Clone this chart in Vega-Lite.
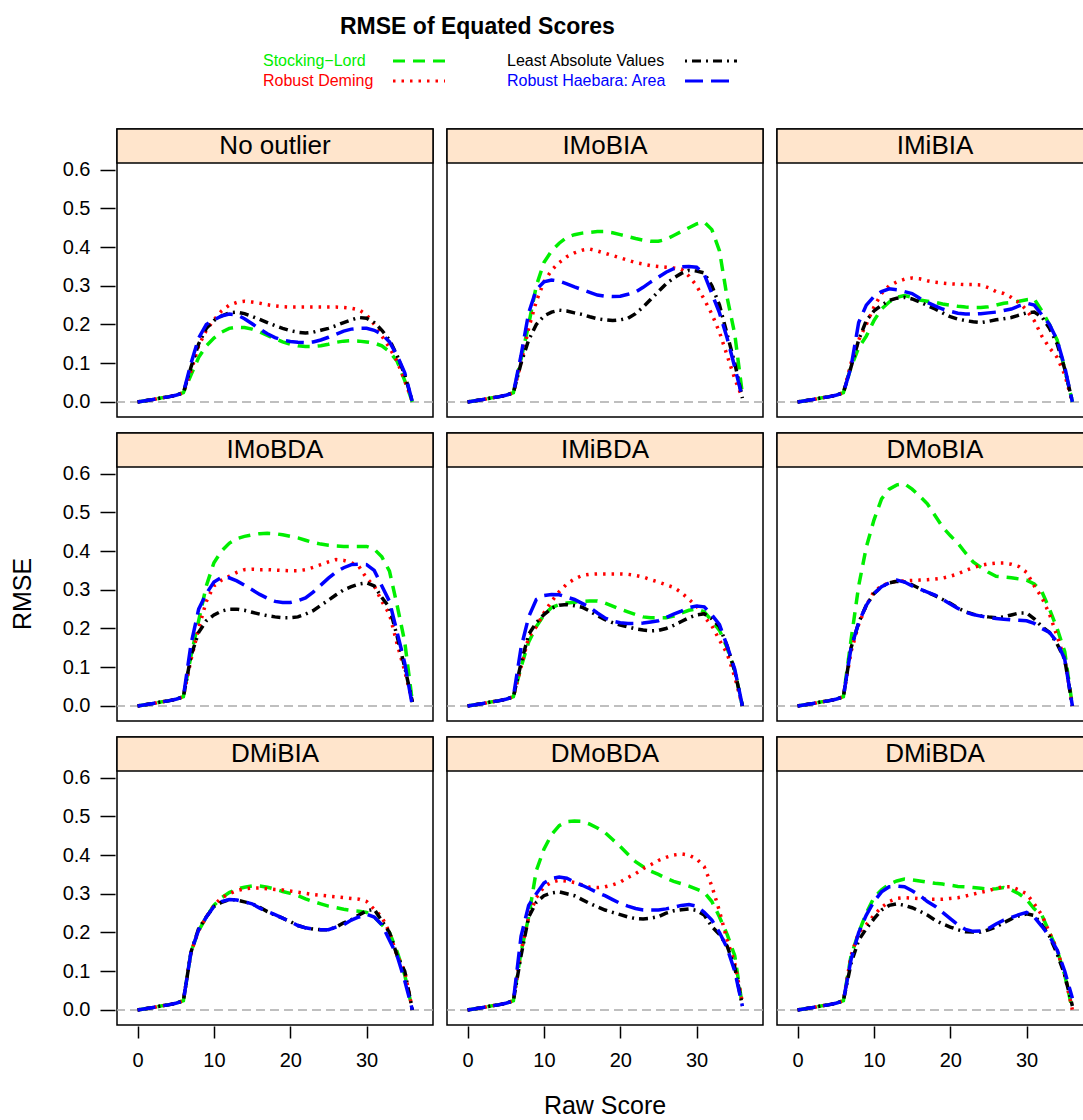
{
  "$schema": "https://vega.github.io/schema/vega-lite/v6.json",
  "background": "white",
  "padding": {"left": 10, "top": 16, "right": 0, "bottom": 0},
  "title": {
    "text": "RMSE of Equated Scores",
    "anchor": "start",
    "dx": 330,
    "offset": 14,
    "font": "Liberation Sans",
    "fontSize": 23,
    "fontWeight": "bold",
    "color": "black"
  },
  "datasets": {
    "rmse": [
      {"panel":"No outlier","score":0,"SL":0,"RD":0,"LAV":0,"RH":0},
      {"panel":"No outlier","score":1,"SL":0.003,"RD":0.003,"LAV":0.003,"RH":0.003},
      {"panel":"No outlier","score":2,"SL":0.006,"RD":0.006,"LAV":0.006,"RH":0.006},
      {"panel":"No outlier","score":3,"SL":0.01,"RD":0.01,"LAV":0.01,"RH":0.01},
      {"panel":"No outlier","score":4,"SL":0.013,"RD":0.013,"LAV":0.013,"RH":0.013},
      {"panel":"No outlier","score":5,"SL":0.017,"RD":0.017,"LAV":0.017,"RH":0.017},
      {"panel":"No outlier","score":6,"SL":0.024,"RD":0.024,"LAV":0.024,"RH":0.024},
      {"panel":"No outlier","score":7,"SL":0.07,"RD":0.08,"LAV":0.09,"RH":0.1},
      {"panel":"No outlier","score":8,"SL":0.115,"RD":0.145,"LAV":0.15,"RH":0.165},
      {"panel":"No outlier","score":9,"SL":0.145,"RD":0.185,"LAV":0.19,"RH":0.2},
      {"panel":"No outlier","score":10,"SL":0.165,"RD":0.212,"LAV":0.21,"RH":0.212},
      {"panel":"No outlier","score":11,"SL":0.18,"RD":0.235,"LAV":0.222,"RH":0.222},
      {"panel":"No outlier","score":12,"SL":0.19,"RD":0.25,"LAV":0.23,"RH":0.227},
      {"panel":"No outlier","score":13,"SL":0.193,"RD":0.257,"LAV":0.232,"RH":0.225},
      {"panel":"No outlier","score":14,"SL":0.192,"RD":0.26,"LAV":0.228,"RH":0.215},
      {"panel":"No outlier","score":15,"SL":0.188,"RD":0.258,"LAV":0.221,"RH":0.202},
      {"panel":"No outlier","score":16,"SL":0.181,"RD":0.255,"LAV":0.213,"RH":0.188},
      {"panel":"No outlier","score":17,"SL":0.172,"RD":0.251,"LAV":0.205,"RH":0.176},
      {"panel":"No outlier","score":18,"SL":0.163,"RD":0.248,"LAV":0.197,"RH":0.166},
      {"panel":"No outlier","score":19,"SL":0.155,"RD":0.246,"LAV":0.19,"RH":0.16},
      {"panel":"No outlier","score":20,"SL":0.149,"RD":0.245,"LAV":0.184,"RH":0.156},
      {"panel":"No outlier","score":21,"SL":0.145,"RD":0.245,"LAV":0.18,"RH":0.154},
      {"panel":"No outlier","score":22,"SL":0.143,"RD":0.245,"LAV":0.178,"RH":0.153},
      {"panel":"No outlier","score":23,"SL":0.143,"RD":0.245,"LAV":0.18,"RH":0.155},
      {"panel":"No outlier","score":24,"SL":0.145,"RD":0.245,"LAV":0.185,"RH":0.16},
      {"panel":"No outlier","score":25,"SL":0.149,"RD":0.245,"LAV":0.19,"RH":0.167},
      {"panel":"No outlier","score":26,"SL":0.154,"RD":0.245,"LAV":0.197,"RH":0.175},
      {"panel":"No outlier","score":27,"SL":0.157,"RD":0.244,"LAV":0.205,"RH":0.183},
      {"panel":"No outlier","score":28,"SL":0.158,"RD":0.242,"LAV":0.212,"RH":0.188},
      {"panel":"No outlier","score":29,"SL":0.157,"RD":0.238,"LAV":0.218,"RH":0.19},
      {"panel":"No outlier","score":30,"SL":0.155,"RD":0.225,"LAV":0.216,"RH":0.19},
      {"panel":"No outlier","score":31,"SL":0.152,"RD":0.2,"LAV":0.205,"RH":0.185},
      {"panel":"No outlier","score":32,"SL":0.145,"RD":0.17,"LAV":0.185,"RH":0.175},
      {"panel":"No outlier","score":33,"SL":0.13,"RD":0.14,"LAV":0.16,"RH":0.155},
      {"panel":"No outlier","score":34,"SL":0.105,"RD":0.105,"LAV":0.12,"RH":0.12},
      {"panel":"No outlier","score":35,"SL":0.055,"RD":0.055,"LAV":0.07,"RH":0.075},
      {"panel":"No outlier","score":36,"SL":0,"RD":0,"LAV":0,"RH":0},

      {"panel":"IMoBIA","score":0,"SL":0,"RD":0,"LAV":0,"RH":0},
      {"panel":"IMoBIA","score":1,"SL":0.003,"RD":0.003,"LAV":0.003,"RH":0.003},
      {"panel":"IMoBIA","score":2,"SL":0.006,"RD":0.006,"LAV":0.006,"RH":0.006},
      {"panel":"IMoBIA","score":3,"SL":0.01,"RD":0.01,"LAV":0.01,"RH":0.01},
      {"panel":"IMoBIA","score":4,"SL":0.013,"RD":0.013,"LAV":0.013,"RH":0.013},
      {"panel":"IMoBIA","score":5,"SL":0.017,"RD":0.017,"LAV":0.017,"RH":0.017},
      {"panel":"IMoBIA","score":6,"SL":0.024,"RD":0.024,"LAV":0.024,"RH":0.024},
      {"panel":"IMoBIA","score":7,"SL":0.11,"RD":0.1,"LAV":0.1,"RH":0.12},
      {"panel":"IMoBIA","score":8,"SL":0.2,"RD":0.19,"LAV":0.16,"RH":0.23},
      {"panel":"IMoBIA","score":9,"SL":0.3,"RD":0.26,"LAV":0.2,"RH":0.29},
      {"panel":"IMoBIA","score":10,"SL":0.36,"RD":0.31,"LAV":0.222,"RH":0.31},
      {"panel":"IMoBIA","score":11,"SL":0.39,"RD":0.34,"LAV":0.232,"RH":0.315},
      {"panel":"IMoBIA","score":12,"SL":0.41,"RD":0.36,"LAV":0.237,"RH":0.312},
      {"panel":"IMoBIA","score":13,"SL":0.425,"RD":0.375,"LAV":0.235,"RH":0.305},
      {"panel":"IMoBIA","score":14,"SL":0.432,"RD":0.385,"LAV":0.23,"RH":0.297},
      {"panel":"IMoBIA","score":15,"SL":0.436,"RD":0.392,"LAV":0.226,"RH":0.29},
      {"panel":"IMoBIA","score":16,"SL":0.438,"RD":0.395,"LAV":0.22,"RH":0.283},
      {"panel":"IMoBIA","score":17,"SL":0.44,"RD":0.39,"LAV":0.215,"RH":0.276},
      {"panel":"IMoBIA","score":18,"SL":0.44,"RD":0.384,"LAV":0.212,"RH":0.273},
      {"panel":"IMoBIA","score":19,"SL":0.437,"RD":0.378,"LAV":0.21,"RH":0.272},
      {"panel":"IMoBIA","score":20,"SL":0.432,"RD":0.372,"LAV":0.212,"RH":0.273},
      {"panel":"IMoBIA","score":21,"SL":0.427,"RD":0.366,"LAV":0.216,"RH":0.278},
      {"panel":"IMoBIA","score":22,"SL":0.422,"RD":0.36,"LAV":0.228,"RH":0.284},
      {"panel":"IMoBIA","score":23,"SL":0.418,"RD":0.356,"LAV":0.245,"RH":0.296},
      {"panel":"IMoBIA","score":24,"SL":0.415,"RD":0.352,"LAV":0.265,"RH":0.31},
      {"panel":"IMoBIA","score":25,"SL":0.415,"RD":0.35,"LAV":0.285,"RH":0.322},
      {"panel":"IMoBIA","score":26,"SL":0.42,"RD":0.348,"LAV":0.305,"RH":0.335},
      {"panel":"IMoBIA","score":27,"SL":0.43,"RD":0.346,"LAV":0.32,"RH":0.344},
      {"panel":"IMoBIA","score":28,"SL":0.44,"RD":0.343,"LAV":0.332,"RH":0.349},
      {"panel":"IMoBIA","score":29,"SL":0.45,"RD":0.325,"LAV":0.34,"RH":0.35},
      {"panel":"IMoBIA","score":30,"SL":0.46,"RD":0.3,"LAV":0.338,"RH":0.348},
      {"panel":"IMoBIA","score":31,"SL":0.465,"RD":0.265,"LAV":0.333,"RH":0.33},
      {"panel":"IMoBIA","score":32,"SL":0.445,"RD":0.227,"LAV":0.3,"RH":0.28},
      {"panel":"IMoBIA","score":33,"SL":0.39,"RD":0.18,"LAV":0.25,"RH":0.23},
      {"panel":"IMoBIA","score":34,"SL":0.27,"RD":0.12,"LAV":0.175,"RH":0.165},
      {"panel":"IMoBIA","score":35,"SL":0.175,"RD":0.06,"LAV":0.1,"RH":0.09},
      {"panel":"IMoBIA","score":36,"SL":0.02,"RD":0.01,"LAV":0.01,"RH":0.01},

      {"panel":"IMiBIA","score":0,"SL":0,"RD":0,"LAV":0,"RH":0},
      {"panel":"IMiBIA","score":1,"SL":0.003,"RD":0.003,"LAV":0.003,"RH":0.003},
      {"panel":"IMiBIA","score":2,"SL":0.006,"RD":0.006,"LAV":0.006,"RH":0.006},
      {"panel":"IMiBIA","score":3,"SL":0.01,"RD":0.01,"LAV":0.01,"RH":0.01},
      {"panel":"IMiBIA","score":4,"SL":0.013,"RD":0.013,"LAV":0.013,"RH":0.013},
      {"panel":"IMiBIA","score":5,"SL":0.017,"RD":0.017,"LAV":0.017,"RH":0.017},
      {"panel":"IMiBIA","score":6,"SL":0.024,"RD":0.024,"LAV":0.024,"RH":0.024},
      {"panel":"IMiBIA","score":7,"SL":0.09,"RD":0.1,"LAV":0.09,"RH":0.09},
      {"panel":"IMiBIA","score":8,"SL":0.14,"RD":0.16,"LAV":0.16,"RH":0.205},
      {"panel":"IMiBIA","score":9,"SL":0.17,"RD":0.2,"LAV":0.21,"RH":0.25},
      {"panel":"IMiBIA","score":10,"SL":0.21,"RD":0.245,"LAV":0.235,"RH":0.272},
      {"panel":"IMiBIA","score":11,"SL":0.24,"RD":0.28,"LAV":0.25,"RH":0.285},
      {"panel":"IMiBIA","score":12,"SL":0.258,"RD":0.3,"LAV":0.262,"RH":0.292},
      {"panel":"IMiBIA","score":13,"SL":0.27,"RD":0.31,"LAV":0.268,"RH":0.29},
      {"panel":"IMiBIA","score":14,"SL":0.275,"RD":0.317,"LAV":0.27,"RH":0.285},
      {"panel":"IMiBIA","score":15,"SL":0.27,"RD":0.32,"LAV":0.266,"RH":0.28},
      {"panel":"IMiBIA","score":16,"SL":0.263,"RD":0.318,"LAV":0.258,"RH":0.268},
      {"panel":"IMiBIA","score":17,"SL":0.26,"RD":0.313,"LAV":0.249,"RH":0.257},
      {"panel":"IMiBIA","score":18,"SL":0.257,"RD":0.309,"LAV":0.24,"RH":0.248},
      {"panel":"IMiBIA","score":19,"SL":0.253,"RD":0.307,"LAV":0.23,"RH":0.24},
      {"panel":"IMiBIA","score":20,"SL":0.25,"RD":0.305,"LAV":0.22,"RH":0.234},
      {"panel":"IMiBIA","score":21,"SL":0.247,"RD":0.304,"LAV":0.214,"RH":0.229},
      {"panel":"IMiBIA","score":22,"SL":0.245,"RD":0.303,"LAV":0.21,"RH":0.227},
      {"panel":"IMiBIA","score":23,"SL":0.244,"RD":0.303,"LAV":0.207,"RH":0.227},
      {"panel":"IMiBIA","score":24,"SL":0.244,"RD":0.302,"LAV":0.205,"RH":0.228},
      {"panel":"IMiBIA","score":25,"SL":0.246,"RD":0.295,"LAV":0.208,"RH":0.23},
      {"panel":"IMiBIA","score":26,"SL":0.25,"RD":0.285,"LAV":0.212,"RH":0.232},
      {"panel":"IMiBIA","score":27,"SL":0.255,"RD":0.28,"LAV":0.215,"RH":0.236},
      {"panel":"IMiBIA","score":28,"SL":0.257,"RD":0.27,"LAV":0.218,"RH":0.24},
      {"panel":"IMiBIA","score":29,"SL":0.26,"RD":0.257,"LAV":0.224,"RH":0.248},
      {"panel":"IMiBIA","score":30,"SL":0.264,"RD":0.237,"LAV":0.23,"RH":0.255},
      {"panel":"IMiBIA","score":31,"SL":0.266,"RD":0.21,"LAV":0.232,"RH":0.25},
      {"panel":"IMiBIA","score":32,"SL":0.235,"RD":0.17,"LAV":0.22,"RH":0.225},
      {"panel":"IMiBIA","score":33,"SL":0.2,"RD":0.14,"LAV":0.19,"RH":0.2},
      {"panel":"IMiBIA","score":34,"SL":0.16,"RD":0.115,"LAV":0.15,"RH":0.16},
      {"panel":"IMiBIA","score":35,"SL":0.085,"RD":0.07,"LAV":0.085,"RH":0.09},
      {"panel":"IMiBIA","score":36,"SL":0,"RD":0,"LAV":0,"RH":0},

      {"panel":"IMoBDA","score":0,"SL":0,"RD":0,"LAV":0,"RH":0},
      {"panel":"IMoBDA","score":1,"SL":0.003,"RD":0.003,"LAV":0.003,"RH":0.003},
      {"panel":"IMoBDA","score":2,"SL":0.006,"RD":0.006,"LAV":0.006,"RH":0.006},
      {"panel":"IMoBDA","score":3,"SL":0.01,"RD":0.01,"LAV":0.01,"RH":0.01},
      {"panel":"IMoBDA","score":4,"SL":0.013,"RD":0.013,"LAV":0.013,"RH":0.013},
      {"panel":"IMoBDA","score":5,"SL":0.017,"RD":0.017,"LAV":0.017,"RH":0.017},
      {"panel":"IMoBDA","score":6,"SL":0.024,"RD":0.024,"LAV":0.024,"RH":0.024},
      {"panel":"IMoBDA","score":7,"SL":0.13,"RD":0.12,"LAV":0.13,"RH":0.16},
      {"panel":"IMoBDA","score":8,"SL":0.22,"RD":0.2,"LAV":0.19,"RH":0.25},
      {"panel":"IMoBDA","score":9,"SL":0.31,"RD":0.27,"LAV":0.22,"RH":0.29},
      {"panel":"IMoBDA","score":10,"SL":0.37,"RD":0.31,"LAV":0.235,"RH":0.32},
      {"panel":"IMoBDA","score":11,"SL":0.4,"RD":0.325,"LAV":0.245,"RH":0.332},
      {"panel":"IMoBDA","score":12,"SL":0.42,"RD":0.335,"LAV":0.25,"RH":0.331},
      {"panel":"IMoBDA","score":13,"SL":0.432,"RD":0.345,"LAV":0.25,"RH":0.323},
      {"panel":"IMoBDA","score":14,"SL":0.438,"RD":0.352,"LAV":0.247,"RH":0.312},
      {"panel":"IMoBDA","score":15,"SL":0.442,"RD":0.353,"LAV":0.242,"RH":0.3},
      {"panel":"IMoBDA","score":16,"SL":0.445,"RD":0.352,"LAV":0.237,"RH":0.288},
      {"panel":"IMoBDA","score":17,"SL":0.446,"RD":0.352,"LAV":0.233,"RH":0.278},
      {"panel":"IMoBDA","score":18,"SL":0.445,"RD":0.351,"LAV":0.23,"RH":0.27},
      {"panel":"IMoBDA","score":19,"SL":0.442,"RD":0.35,"LAV":0.228,"RH":0.267},
      {"panel":"IMoBDA","score":20,"SL":0.438,"RD":0.349,"LAV":0.228,"RH":0.267},
      {"panel":"IMoBDA","score":21,"SL":0.434,"RD":0.349,"LAV":0.23,"RH":0.272},
      {"panel":"IMoBDA","score":22,"SL":0.428,"RD":0.352,"LAV":0.237,"RH":0.279},
      {"panel":"IMoBDA","score":23,"SL":0.422,"RD":0.358,"LAV":0.246,"RH":0.294},
      {"panel":"IMoBDA","score":24,"SL":0.418,"RD":0.365,"LAV":0.26,"RH":0.312},
      {"panel":"IMoBDA","score":25,"SL":0.415,"RD":0.372,"LAV":0.273,"RH":0.33},
      {"panel":"IMoBDA","score":26,"SL":0.413,"RD":0.378,"LAV":0.287,"RH":0.346},
      {"panel":"IMoBDA","score":27,"SL":0.412,"RD":0.376,"LAV":0.3,"RH":0.357},
      {"panel":"IMoBDA","score":28,"SL":0.412,"RD":0.37,"LAV":0.308,"RH":0.365},
      {"panel":"IMoBDA","score":29,"SL":0.412,"RD":0.36,"LAV":0.315,"RH":0.366},
      {"panel":"IMoBDA","score":30,"SL":0.412,"RD":0.33,"LAV":0.318,"RH":0.365},
      {"panel":"IMoBDA","score":31,"SL":0.405,"RD":0.31,"LAV":0.31,"RH":0.35},
      {"panel":"IMoBDA","score":32,"SL":0.385,"RD":0.27,"LAV":0.28,"RH":0.31},
      {"panel":"IMoBDA","score":33,"SL":0.348,"RD":0.237,"LAV":0.254,"RH":0.27},
      {"panel":"IMoBDA","score":34,"SL":0.26,"RD":0.16,"LAV":0.18,"RH":0.19},
      {"panel":"IMoBDA","score":35,"SL":0.165,"RD":0.09,"LAV":0.1,"RH":0.11},
      {"panel":"IMoBDA","score":36,"SL":0.01,"RD":0.01,"LAV":0.01,"RH":0},

      {"panel":"IMiBDA","score":0,"SL":0,"RD":0,"LAV":0,"RH":0},
      {"panel":"IMiBDA","score":1,"SL":0.003,"RD":0.003,"LAV":0.003,"RH":0.003},
      {"panel":"IMiBDA","score":2,"SL":0.006,"RD":0.006,"LAV":0.006,"RH":0.006},
      {"panel":"IMiBDA","score":3,"SL":0.01,"RD":0.01,"LAV":0.01,"RH":0.01},
      {"panel":"IMiBDA","score":4,"SL":0.013,"RD":0.013,"LAV":0.013,"RH":0.013},
      {"panel":"IMiBDA","score":5,"SL":0.017,"RD":0.017,"LAV":0.017,"RH":0.017},
      {"panel":"IMiBDA","score":6,"SL":0.024,"RD":0.024,"LAV":0.024,"RH":0.024},
      {"panel":"IMiBDA","score":7,"SL":0.1,"RD":0.1,"LAV":0.11,"RH":0.15},
      {"panel":"IMiBDA","score":8,"SL":0.165,"RD":0.177,"LAV":0.185,"RH":0.23},
      {"panel":"IMiBDA","score":9,"SL":0.205,"RD":0.205,"LAV":0.215,"RH":0.275},
      {"panel":"IMiBDA","score":10,"SL":0.235,"RD":0.24,"LAV":0.236,"RH":0.285},
      {"panel":"IMiBDA","score":11,"SL":0.254,"RD":0.27,"LAV":0.252,"RH":0.288},
      {"panel":"IMiBDA","score":12,"SL":0.262,"RD":0.295,"LAV":0.26,"RH":0.287},
      {"panel":"IMiBDA","score":13,"SL":0.266,"RD":0.315,"LAV":0.262,"RH":0.281},
      {"panel":"IMiBDA","score":14,"SL":0.268,"RD":0.328,"LAV":0.259,"RH":0.275},
      {"panel":"IMiBDA","score":15,"SL":0.27,"RD":0.337,"LAV":0.255,"RH":0.265},
      {"panel":"IMiBDA","score":16,"SL":0.271,"RD":0.34,"LAV":0.245,"RH":0.255},
      {"panel":"IMiBDA","score":17,"SL":0.271,"RD":0.341,"LAV":0.233,"RH":0.24},
      {"panel":"IMiBDA","score":18,"SL":0.266,"RD":0.341,"LAV":0.223,"RH":0.227},
      {"panel":"IMiBDA","score":19,"SL":0.258,"RD":0.341,"LAV":0.215,"RH":0.219},
      {"panel":"IMiBDA","score":20,"SL":0.25,"RD":0.341,"LAV":0.209,"RH":0.215},
      {"panel":"IMiBDA","score":21,"SL":0.243,"RD":0.34,"LAV":0.204,"RH":0.213},
      {"panel":"IMiBDA","score":22,"SL":0.236,"RD":0.337,"LAV":0.199,"RH":0.213},
      {"panel":"IMiBDA","score":23,"SL":0.23,"RD":0.333,"LAV":0.196,"RH":0.214},
      {"panel":"IMiBDA","score":24,"SL":0.228,"RD":0.326,"LAV":0.194,"RH":0.217},
      {"panel":"IMiBDA","score":25,"SL":0.228,"RD":0.32,"LAV":0.195,"RH":0.22},
      {"panel":"IMiBDA","score":26,"SL":0.228,"RD":0.313,"LAV":0.2,"RH":0.228},
      {"panel":"IMiBDA","score":27,"SL":0.232,"RD":0.306,"LAV":0.208,"RH":0.237},
      {"panel":"IMiBDA","score":28,"SL":0.24,"RD":0.293,"LAV":0.218,"RH":0.245},
      {"panel":"IMiBDA","score":29,"SL":0.247,"RD":0.275,"LAV":0.228,"RH":0.254},
      {"panel":"IMiBDA","score":30,"SL":0.25,"RD":0.258,"LAV":0.235,"RH":0.258},
      {"panel":"IMiBDA","score":31,"SL":0.243,"RD":0.23,"LAV":0.238,"RH":0.256},
      {"panel":"IMiBDA","score":32,"SL":0.22,"RD":0.207,"LAV":0.225,"RH":0.235},
      {"panel":"IMiBDA","score":33,"SL":0.195,"RD":0.17,"LAV":0.205,"RH":0.21},
      {"panel":"IMiBDA","score":34,"SL":0.15,"RD":0.135,"LAV":0.155,"RH":0.155},
      {"panel":"IMiBDA","score":35,"SL":0.09,"RD":0.075,"LAV":0.09,"RH":0.095},
      {"panel":"IMiBDA","score":36,"SL":0,"RD":0,"LAV":0,"RH":0},

      {"panel":"DMoBIA","score":0,"SL":0,"RD":0,"LAV":0,"RH":0},
      {"panel":"DMoBIA","score":1,"SL":0.003,"RD":0.003,"LAV":0.003,"RH":0.003},
      {"panel":"DMoBIA","score":2,"SL":0.006,"RD":0.006,"LAV":0.006,"RH":0.006},
      {"panel":"DMoBIA","score":3,"SL":0.01,"RD":0.01,"LAV":0.01,"RH":0.01},
      {"panel":"DMoBIA","score":4,"SL":0.013,"RD":0.013,"LAV":0.013,"RH":0.013},
      {"panel":"DMoBIA","score":5,"SL":0.017,"RD":0.017,"LAV":0.017,"RH":0.017},
      {"panel":"DMoBIA","score":6,"SL":0.024,"RD":0.024,"LAV":0.024,"RH":0.024},
      {"panel":"DMoBIA","score":7,"SL":0.17,"RD":0.14,"LAV":0.15,"RH":0.15},
      {"panel":"DMoBIA","score":8,"SL":0.31,"RD":0.21,"LAV":0.215,"RH":0.215},
      {"panel":"DMoBIA","score":9,"SL":0.41,"RD":0.26,"LAV":0.26,"RH":0.26},
      {"panel":"DMoBIA","score":10,"SL":0.48,"RD":0.295,"LAV":0.29,"RH":0.29},
      {"panel":"DMoBIA","score":11,"SL":0.535,"RD":0.31,"LAV":0.308,"RH":0.308},
      {"panel":"DMoBIA","score":12,"SL":0.56,"RD":0.318,"LAV":0.318,"RH":0.318},
      {"panel":"DMoBIA","score":13,"SL":0.571,"RD":0.322,"LAV":0.322,"RH":0.325},
      {"panel":"DMoBIA","score":14,"SL":0.574,"RD":0.323,"LAV":0.32,"RH":0.32},
      {"panel":"DMoBIA","score":15,"SL":0.56,"RD":0.324,"LAV":0.313,"RH":0.31},
      {"panel":"DMoBIA","score":16,"SL":0.542,"RD":0.325,"LAV":0.303,"RH":0.302},
      {"panel":"DMoBIA","score":17,"SL":0.522,"RD":0.326,"LAV":0.293,"RH":0.294},
      {"panel":"DMoBIA","score":18,"SL":0.492,"RD":0.328,"LAV":0.285,"RH":0.286},
      {"panel":"DMoBIA","score":19,"SL":0.462,"RD":0.33,"LAV":0.275,"RH":0.275},
      {"panel":"DMoBIA","score":20,"SL":0.44,"RD":0.335,"LAV":0.265,"RH":0.263},
      {"panel":"DMoBIA","score":21,"SL":0.42,"RD":0.341,"LAV":0.253,"RH":0.252},
      {"panel":"DMoBIA","score":22,"SL":0.395,"RD":0.35,"LAV":0.243,"RH":0.242},
      {"panel":"DMoBIA","score":23,"SL":0.372,"RD":0.357,"LAV":0.237,"RH":0.236},
      {"panel":"DMoBIA","score":24,"SL":0.358,"RD":0.363,"LAV":0.233,"RH":0.232},
      {"panel":"DMoBIA","score":25,"SL":0.345,"RD":0.367,"LAV":0.23,"RH":0.228},
      {"panel":"DMoBIA","score":26,"SL":0.335,"RD":0.369,"LAV":0.228,"RH":0.226},
      {"panel":"DMoBIA","score":27,"SL":0.333,"RD":0.369,"LAV":0.23,"RH":0.224},
      {"panel":"DMoBIA","score":28,"SL":0.331,"RD":0.366,"LAV":0.235,"RH":0.222},
      {"panel":"DMoBIA","score":29,"SL":0.328,"RD":0.36,"LAV":0.24,"RH":0.221},
      {"panel":"DMoBIA","score":30,"SL":0.325,"RD":0.345,"LAV":0.24,"RH":0.22},
      {"panel":"DMoBIA","score":31,"SL":0.315,"RD":0.31,"LAV":0.225,"RH":0.213},
      {"panel":"DMoBIA","score":32,"SL":0.295,"RD":0.28,"LAV":0.205,"RH":0.2},
      {"panel":"DMoBIA","score":33,"SL":0.25,"RD":0.237,"LAV":0.19,"RH":0.19},
      {"panel":"DMoBIA","score":34,"SL":0.2,"RD":0.18,"LAV":0.16,"RH":0.165},
      {"panel":"DMoBIA","score":35,"SL":0.14,"RD":0.12,"LAV":0.12,"RH":0.12},
      {"panel":"DMoBIA","score":36,"SL":0,"RD":0,"LAV":0,"RH":0},

      {"panel":"DMiBIA","score":0,"SL":0,"RD":0,"LAV":0,"RH":0},
      {"panel":"DMiBIA","score":1,"SL":0.003,"RD":0.003,"LAV":0.003,"RH":0.003},
      {"panel":"DMiBIA","score":2,"SL":0.006,"RD":0.006,"LAV":0.006,"RH":0.006},
      {"panel":"DMiBIA","score":3,"SL":0.01,"RD":0.01,"LAV":0.01,"RH":0.01},
      {"panel":"DMiBIA","score":4,"SL":0.013,"RD":0.013,"LAV":0.013,"RH":0.013},
      {"panel":"DMiBIA","score":5,"SL":0.017,"RD":0.017,"LAV":0.017,"RH":0.017},
      {"panel":"DMiBIA","score":6,"SL":0.024,"RD":0.024,"LAV":0.024,"RH":0.024},
      {"panel":"DMiBIA","score":7,"SL":0.15,"RD":0.15,"LAV":0.15,"RH":0.15},
      {"panel":"DMiBIA","score":8,"SL":0.205,"RD":0.205,"LAV":0.21,"RH":0.207},
      {"panel":"DMiBIA","score":9,"SL":0.24,"RD":0.24,"LAV":0.24,"RH":0.24},
      {"panel":"DMiBIA","score":10,"SL":0.27,"RD":0.27,"LAV":0.267,"RH":0.267},
      {"panel":"DMiBIA","score":11,"SL":0.29,"RD":0.29,"LAV":0.278,"RH":0.28},
      {"panel":"DMiBIA","score":12,"SL":0.303,"RD":0.3,"LAV":0.285,"RH":0.285},
      {"panel":"DMiBIA","score":13,"SL":0.312,"RD":0.308,"LAV":0.284,"RH":0.284},
      {"panel":"DMiBIA","score":14,"SL":0.317,"RD":0.313,"LAV":0.279,"RH":0.279},
      {"panel":"DMiBIA","score":15,"SL":0.32,"RD":0.315,"LAV":0.274,"RH":0.274},
      {"panel":"DMiBIA","score":16,"SL":0.32,"RD":0.315,"LAV":0.265,"RH":0.263},
      {"panel":"DMiBIA","score":17,"SL":0.317,"RD":0.313,"LAV":0.254,"RH":0.254},
      {"panel":"DMiBIA","score":18,"SL":0.312,"RD":0.311,"LAV":0.245,"RH":0.246},
      {"panel":"DMiBIA","score":19,"SL":0.306,"RD":0.31,"LAV":0.237,"RH":0.237},
      {"panel":"DMiBIA","score":20,"SL":0.301,"RD":0.307,"LAV":0.228,"RH":0.228},
      {"panel":"DMiBIA","score":21,"SL":0.295,"RD":0.304,"LAV":0.218,"RH":0.218},
      {"panel":"DMiBIA","score":22,"SL":0.287,"RD":0.301,"LAV":0.212,"RH":0.212},
      {"panel":"DMiBIA","score":23,"SL":0.28,"RD":0.298,"LAV":0.209,"RH":0.209},
      {"panel":"DMiBIA","score":24,"SL":0.274,"RD":0.296,"LAV":0.207,"RH":0.207},
      {"panel":"DMiBIA","score":25,"SL":0.268,"RD":0.294,"LAV":0.207,"RH":0.207},
      {"panel":"DMiBIA","score":26,"SL":0.264,"RD":0.292,"LAV":0.214,"RH":0.214},
      {"panel":"DMiBIA","score":27,"SL":0.26,"RD":0.29,"LAV":0.225,"RH":0.22},
      {"panel":"DMiBIA","score":28,"SL":0.257,"RD":0.288,"LAV":0.233,"RH":0.232},
      {"panel":"DMiBIA","score":29,"SL":0.255,"RD":0.286,"LAV":0.245,"RH":0.24},
      {"panel":"DMiBIA","score":30,"SL":0.252,"RD":0.28,"LAV":0.256,"RH":0.247},
      {"panel":"DMiBIA","score":31,"SL":0.24,"RD":0.26,"LAV":0.26,"RH":0.24},
      {"panel":"DMiBIA","score":32,"SL":0.22,"RD":0.24,"LAV":0.23,"RH":0.22},
      {"panel":"DMiBIA","score":33,"SL":0.2,"RD":0.2,"LAV":0.2,"RH":0.18},
      {"panel":"DMiBIA","score":34,"SL":0.15,"RD":0.14,"LAV":0.14,"RH":0.14},
      {"panel":"DMiBIA","score":35,"SL":0.09,"RD":0.1,"LAV":0.1,"RH":0.075},
      {"panel":"DMiBIA","score":36,"SL":0,"RD":0,"LAV":0,"RH":0},

      {"panel":"DMoBDA","score":0,"SL":0,"RD":0,"LAV":0,"RH":0},
      {"panel":"DMoBDA","score":1,"SL":0.003,"RD":0.003,"LAV":0.003,"RH":0.003},
      {"panel":"DMoBDA","score":2,"SL":0.006,"RD":0.006,"LAV":0.006,"RH":0.006},
      {"panel":"DMoBDA","score":3,"SL":0.01,"RD":0.01,"LAV":0.01,"RH":0.01},
      {"panel":"DMoBDA","score":4,"SL":0.013,"RD":0.013,"LAV":0.013,"RH":0.013},
      {"panel":"DMoBDA","score":5,"SL":0.017,"RD":0.017,"LAV":0.017,"RH":0.017},
      {"panel":"DMoBDA","score":6,"SL":0.024,"RD":0.024,"LAV":0.024,"RH":0.024},
      {"panel":"DMoBDA","score":7,"SL":0.15,"RD":0.15,"LAV":0.14,"RH":0.19},
      {"panel":"DMoBDA","score":8,"SL":0.24,"RD":0.24,"LAV":0.24,"RH":0.27},
      {"panel":"DMoBDA","score":9,"SL":0.36,"RD":0.29,"LAV":0.278,"RH":0.3},
      {"panel":"DMoBDA","score":10,"SL":0.415,"RD":0.318,"LAV":0.295,"RH":0.328},
      {"panel":"DMoBDA","score":11,"SL":0.453,"RD":0.33,"LAV":0.302,"RH":0.34},
      {"panel":"DMoBDA","score":12,"SL":0.476,"RD":0.335,"LAV":0.305,"RH":0.343},
      {"panel":"DMoBDA","score":13,"SL":0.486,"RD":0.333,"LAV":0.3,"RH":0.34},
      {"panel":"DMoBDA","score":14,"SL":0.488,"RD":0.329,"LAV":0.295,"RH":0.33},
      {"panel":"DMoBDA","score":15,"SL":0.487,"RD":0.323,"LAV":0.285,"RH":0.322},
      {"panel":"DMoBDA","score":16,"SL":0.48,"RD":0.317,"LAV":0.275,"RH":0.313},
      {"panel":"DMoBDA","score":17,"SL":0.47,"RD":0.316,"LAV":0.266,"RH":0.303},
      {"panel":"DMoBDA","score":18,"SL":0.458,"RD":0.318,"LAV":0.258,"RH":0.295},
      {"panel":"DMoBDA","score":19,"SL":0.44,"RD":0.323,"LAV":0.252,"RH":0.285},
      {"panel":"DMoBDA","score":20,"SL":0.422,"RD":0.33,"LAV":0.246,"RH":0.275},
      {"panel":"DMoBDA","score":21,"SL":0.402,"RD":0.342,"LAV":0.24,"RH":0.268},
      {"panel":"DMoBDA","score":22,"SL":0.383,"RD":0.352,"LAV":0.236,"RH":0.262},
      {"panel":"DMoBDA","score":23,"SL":0.37,"RD":0.365,"LAV":0.235,"RH":0.258},
      {"panel":"DMoBDA","score":24,"SL":0.358,"RD":0.375,"LAV":0.237,"RH":0.258},
      {"panel":"DMoBDA","score":25,"SL":0.35,"RD":0.386,"LAV":0.241,"RH":0.258},
      {"panel":"DMoBDA","score":26,"SL":0.34,"RD":0.394,"LAV":0.25,"RH":0.261},
      {"panel":"DMoBDA","score":27,"SL":0.332,"RD":0.4,"LAV":0.256,"RH":0.265},
      {"panel":"DMoBDA","score":28,"SL":0.326,"RD":0.403,"LAV":0.259,"RH":0.27},
      {"panel":"DMoBDA","score":29,"SL":0.32,"RD":0.4,"LAV":0.261,"RH":0.272},
      {"panel":"DMoBDA","score":30,"SL":0.312,"RD":0.39,"LAV":0.257,"RH":0.268},
      {"panel":"DMoBDA","score":31,"SL":0.304,"RD":0.37,"LAV":0.245,"RH":0.252},
      {"panel":"DMoBDA","score":32,"SL":0.28,"RD":0.32,"LAV":0.215,"RH":0.232},
      {"panel":"DMoBDA","score":33,"SL":0.24,"RD":0.255,"LAV":0.195,"RH":0.2},
      {"panel":"DMoBDA","score":34,"SL":0.195,"RD":0.18,"LAV":0.165,"RH":0.16},
      {"panel":"DMoBDA","score":35,"SL":0.14,"RD":0.12,"LAV":0.11,"RH":0.1},
      {"panel":"DMoBDA","score":36,"SL":0.01,"RD":0.02,"LAV":0.01,"RH":0.01},

      {"panel":"DMiBDA","score":0,"SL":0,"RD":0,"LAV":0,"RH":0},
      {"panel":"DMiBDA","score":1,"SL":0.003,"RD":0.003,"LAV":0.003,"RH":0.003},
      {"panel":"DMiBDA","score":2,"SL":0.006,"RD":0.006,"LAV":0.006,"RH":0.006},
      {"panel":"DMiBDA","score":3,"SL":0.01,"RD":0.01,"LAV":0.01,"RH":0.01},
      {"panel":"DMiBDA","score":4,"SL":0.013,"RD":0.013,"LAV":0.013,"RH":0.013},
      {"panel":"DMiBDA","score":5,"SL":0.017,"RD":0.017,"LAV":0.017,"RH":0.017},
      {"panel":"DMiBDA","score":6,"SL":0.024,"RD":0.024,"LAV":0.024,"RH":0.024},
      {"panel":"DMiBDA","score":7,"SL":0.14,"RD":0.14,"LAV":0.12,"RH":0.13},
      {"panel":"DMiBDA","score":8,"SL":0.2,"RD":0.2,"LAV":0.18,"RH":0.2},
      {"panel":"DMiBDA","score":9,"SL":0.25,"RD":0.22,"LAV":0.21,"RH":0.245},
      {"panel":"DMiBDA","score":10,"SL":0.29,"RD":0.245,"LAV":0.235,"RH":0.28},
      {"panel":"DMiBDA","score":11,"SL":0.31,"RD":0.265,"LAV":0.258,"RH":0.305},
      {"panel":"DMiBDA","score":12,"SL":0.325,"RD":0.28,"LAV":0.27,"RH":0.318},
      {"panel":"DMiBDA","score":13,"SL":0.333,"RD":0.288,"LAV":0.274,"RH":0.32},
      {"panel":"DMiBDA","score":14,"SL":0.338,"RD":0.29,"LAV":0.27,"RH":0.318},
      {"panel":"DMiBDA","score":15,"SL":0.336,"RD":0.289,"LAV":0.264,"RH":0.308},
      {"panel":"DMiBDA","score":16,"SL":0.333,"RD":0.287,"LAV":0.255,"RH":0.296},
      {"panel":"DMiBDA","score":17,"SL":0.33,"RD":0.286,"LAV":0.245,"RH":0.28},
      {"panel":"DMiBDA","score":18,"SL":0.327,"RD":0.286,"LAV":0.232,"RH":0.268},
      {"panel":"DMiBDA","score":19,"SL":0.325,"RD":0.286,"LAV":0.222,"RH":0.252},
      {"panel":"DMiBDA","score":20,"SL":0.322,"RD":0.288,"LAV":0.214,"RH":0.236},
      {"panel":"DMiBDA","score":21,"SL":0.319,"RD":0.29,"LAV":0.207,"RH":0.22},
      {"panel":"DMiBDA","score":22,"SL":0.318,"RD":0.294,"LAV":0.202,"RH":0.208},
      {"panel":"DMiBDA","score":23,"SL":0.316,"RD":0.299,"LAV":0.201,"RH":0.203},
      {"panel":"DMiBDA","score":24,"SL":0.314,"RD":0.304,"LAV":0.201,"RH":0.204},
      {"panel":"DMiBDA","score":25,"SL":0.312,"RD":0.308,"LAV":0.207,"RH":0.21},
      {"panel":"DMiBDA","score":26,"SL":0.313,"RD":0.314,"LAV":0.214,"RH":0.222},
      {"panel":"DMiBDA","score":27,"SL":0.316,"RD":0.318,"LAV":0.225,"RH":0.232},
      {"panel":"DMiBDA","score":28,"SL":0.31,"RD":0.318,"LAV":0.235,"RH":0.239},
      {"panel":"DMiBDA","score":29,"SL":0.3,"RD":0.31,"LAV":0.243,"RH":0.246},
      {"panel":"DMiBDA","score":30,"SL":0.285,"RD":0.3,"LAV":0.248,"RH":0.252},
      {"panel":"DMiBDA","score":31,"SL":0.261,"RD":0.274,"LAV":0.244,"RH":0.24},
      {"panel":"DMiBDA","score":32,"SL":0.245,"RD":0.245,"LAV":0.22,"RH":0.216},
      {"panel":"DMiBDA","score":33,"SL":0.2,"RD":0.2,"LAV":0.19,"RH":0.19},
      {"panel":"DMiBDA","score":34,"SL":0.155,"RD":0.155,"LAV":0.145,"RH":0.155},
      {"panel":"DMiBDA","score":35,"SL":0.09,"RD":0.09,"LAV":0.09,"RH":0.1},
      {"panel":"DMiBDA","score":36,"SL":0,"RD":0,"LAV":0.01,"RH":0.03}
    ]
  },
  "spacing": 26,
  "hconcat": [
    {
      "width": 25,
      "height": 930,
      "view": {"stroke": null},
      "data": {"values": [{}]},
      "mark": {
        "type": "text",
        "text": "RMSE",
        "angle": 270,
        "align": "center",
        "baseline": "middle",
        "font": "Liberation Sans",
        "fontSize": 25,
        "color": "black"
      },
      "encoding": {}
    },
    {
      "data": {"name": "rmse"},
      "facet": {
        "field": "panel",
        "type": "nominal",
        "sort": ["No outlier", "IMoBIA", "IMiBIA", "IMoBDA", "IMiBDA", "DMoBIA", "DMiBIA", "DMoBDA", "DMiBDA"],
        "title": "Raw Score",
        "header": {
          "labels": false,
          "labelExpr": "''",
          "labelFontSize": 1,
          "labelPadding": 0,
          "titleOrient": "bottom",
          "titleFont": "Liberation Sans",
          "titleFontSize": 25,
          "titleFontWeight": "normal",
          "titleColor": "black",
          "titlePadding": 24
        }
      },
      "columns": 3,
      "spacing": {"row": 12, "column": 10},
      "spec": {
        "width": 316,
        "height": 288,
        "layer": [
          {
            "transform": [{"filter": "datum.score == 0"}],
            "mark": {"type": "rect", "fill": "#ffe5cc", "stroke": "black", "strokeWidth": 1.5},
            "encoding": {
              "x": {"datum": -2.7, "type": "quantitative", "axis": {"title": null, "values": [0, 10, 20, 30], "tickSize": 12, "labelPadding": 12}},
              "x2": {"datum": 38.7},
              "y": {"datum": 0.617, "type": "quantitative", "axis": {"title": null, "values": [0, 0.1, 0.2, 0.3, 0.4, 0.5, 0.6], "format": ".1f", "tickSize": 15, "labelPadding": 10}},
              "y2": {"datum": 0.705}
            }
          },
          {
            "transform": [{"filter": "datum.score == 0"}],
            "mark": {"type": "text", "font": "Liberation Sans", "fontSize": 26, "color": "black", "baseline": "middle", "align": "center"},
            "encoding": {
              "x": {"datum": 18, "type": "quantitative", "axis": {"title": null, "values": [0, 10, 20, 30], "tickSize": 12, "labelPadding": 12}},
              "y": {"datum": 0.661, "type": "quantitative", "axis": {"title": null, "values": [0, 0.1, 0.2, 0.3, 0.4, 0.5, 0.6], "format": ".1f", "tickSize": 15, "labelPadding": 10}},
              "text": {"field": "panel"}
            }
          },
          {
            "transform": [{"filter": "datum.score == 0"}],
            "mark": {"type": "rule", "color": "#aaaaaa", "strokeWidth": 1.5, "strokeDash": [9, 5]},
            "encoding": {
              "y": {"datum": 0, "type": "quantitative", "axis": {"title": null, "values": [0, 0.1, 0.2, 0.3, 0.4, 0.5, 0.6], "format": ".1f", "tickSize": 15, "labelPadding": 10}}
            }
          },
          {
            "transform": [{"fold": ["SL", "RD", "LAV", "RH"], "as": ["method", "rmse"]}],
            "mark": {"type": "line", "strokeWidth": 3.5, "clip": true},
            "encoding": {
              "x": {
                "field": "score",
                "type": "quantitative",
                "scale": {"domain": [-2.7, 38.7], "nice": false, "zero": false},
                "axis": {"title": null, "values": [0, 10, 20, 30], "tickSize": 12, "labelPadding": 12}
              },
              "y": {
                "field": "rmse",
                "type": "quantitative",
                "scale": {"domain": [-0.039, 0.705], "nice": false, "zero": false},
                "axis": {"title": null, "values": [0, 0.1, 0.2, 0.3, 0.4, 0.5, 0.6], "format": ".1f", "tickSize": 15, "labelPadding": 10}
              },
              "color": {
                "field": "method",
                "type": "nominal",
                "scale": {"domain": ["SL", "RD", "LAV", "RH"], "range": ["#00ee00", "#ff0000", "#000000", "#0000ff"]},
                "legend": {
                  "title": null,
                  "orient": "none",
                  "legendX": 253,
                  "legendY": -76,
                  "columns": 2,
                  "columnPadding": 56,
                  "rowPadding": 4,
                  "padding": 0,
                  "symbolType": "M-5.2,0H5.2",
                  "symbolSize": 100,
                  "symbolStrokeWidth": 3,
                  "symbolFillColor": "transparent",
                  "labelFont": "Liberation Sans",
                  "labelFontSize": 16,
                  "labelLimit": 300,
                  "labelExpr": "datum.value == 'SL' ? 'Stocking−Lord' : datum.value == 'RD' ? 'Robust Deming' : datum.value == 'LAV' ? 'Least Absolute Values' : 'Robust Haebara: Area'",
                  "encode": {
                    "labels": {"update": {"x": {"value": 0}, "fill": {"signal": "scale('color', datum.value)"}}},
                    "symbols": {"update": {"fill": {"value": "transparent"}, "x": {"signal": "datum.value == 'SL' || datum.value == 'RD' ? 156 : 204"}}}
                  }
                }
              },
              "strokeDash": {
                "field": "method",
                "type": "nominal",
                "scale": {"domain": ["SL", "RD", "LAV", "RH"], "range": [[12, 8], [2.5, 6], [2, 5, 9, 5], [18, 8]]},
                "legend": {
                  "title": null,
                  "orient": "none",
                  "legendX": 253,
                  "legendY": -76,
                  "columns": 2,
                  "columnPadding": 56,
                  "rowPadding": 4,
                  "padding": 0,
                  "symbolType": "M-5.2,0H5.2",
                  "symbolSize": 100,
                  "symbolStrokeWidth": 3,
                  "symbolFillColor": "transparent",
                  "labelFont": "Liberation Sans",
                  "labelFontSize": 16,
                  "labelLimit": 300,
                  "labelExpr": "datum.value == 'SL' ? 'Stocking−Lord' : datum.value == 'RD' ? 'Robust Deming' : datum.value == 'LAV' ? 'Least Absolute Values' : 'Robust Haebara: Area'",
                  "encode": {
                    "labels": {"update": {"x": {"value": 0}, "fill": {"signal": "scale('color', datum.value)"}}},
                    "symbols": {"update": {"fill": {"value": "transparent"}, "x": {"signal": "datum.value == 'SL' || datum.value == 'RD' ? 156 : 204"}}}
                  }
                }
              }
            }
          }
        ]
      }
    }
  ],
  "config": {
    "font": "Liberation Sans",
    "view": {"stroke": "black", "strokeWidth": 1.5},
    "axis": {
      "grid": false,
      "domain": false,
      "ticks": true,
      "tickColor": "black",
      "tickWidth": 1.5,
      "labelColor": "black",
      "labelFont": "Liberation Sans",
      "labelFontSize": 20
    }
  }
}
